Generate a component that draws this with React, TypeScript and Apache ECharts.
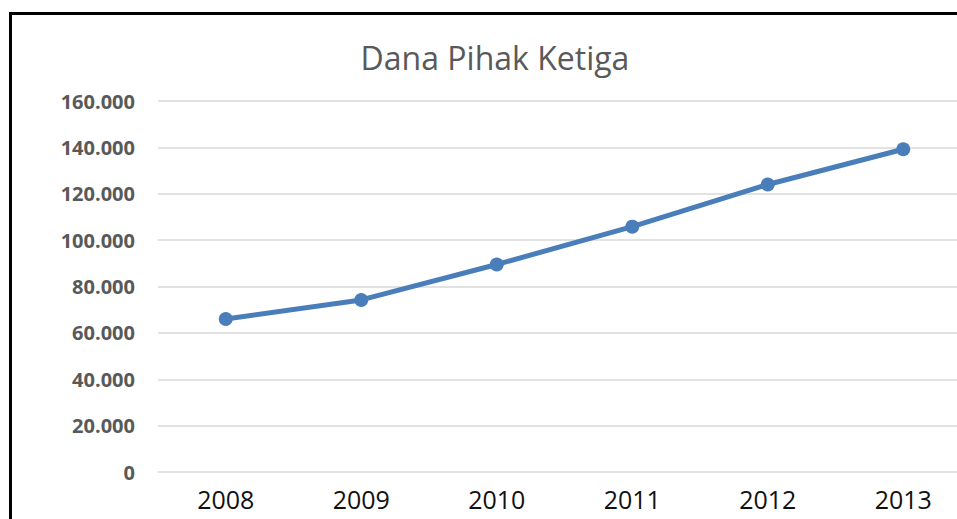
import React, { useEffect, useRef } from "react";
import * as echarts from "echarts";

const categories = ["2008", "2009", "2010", "2011", "2012", "2013"];
const values = [66000, 74200, 89500, 105800, 124000, 139200];
const yTicks = [0, 20000, 40000, 60000, 80000, 100000, 120000, 140000, 160000];

const fmt = (v: number) =>
  v === 0 ? "0" : String(v).replace(/\B(?=(\d{3})+(?!\d))/g, ".");

export default function App() {
  const ref = useRef<HTMLDivElement>(null);
  useEffect(() => {
    document.body.style.margin = "0";
    document.body.style.overflow = "hidden";
    const chart = echarts.init(ref.current!, null, { renderer: "svg" });
    chart.setOption({
      animation: false,
      backgroundColor: "#ffffff",
      title: {
        text: "Dana Pihak Ketiga",
        left: 490,
        textAlign: "center",
        top: 36,
        textStyle: {
          fontFamily: "Open Sans",
          fontSize: 32,
          fontWeight: "normal",
          color: "#595959",
        },
      },
      grid: { left: 158, right: 0, top: 101, bottom: 971 - 971 + 47, containLabel: false },
      xAxis: {
        type: "category",
        data: categories,
        boundaryGap: true,
        axisLine: { show: false },
        axisTick: { show: false },
        axisLabel: {
          fontFamily: "Open Sans",
          fontSize: 25,
          color: "#111111",
          margin: 14,
        },
      },
      yAxis: {
        type: "value",
        min: yTicks[0],
        max: yTicks[yTicks.length - 1],
        interval: 20000,
        axisLine: { show: false },
        axisTick: { show: false },
        splitLine: { lineStyle: { color: "#d9d9d9", width: 1.5 } },
        axisLabel: {
          formatter: (v: number) => fmt(v),
          fontFamily: "Open Sans",
          fontWeight: "bold",
          fontSize: 20,
          color: "#595959",
          margin: 23,
        },
      },
      series: [
        {
          type: "line",
          data: values,
          symbol: "circle",
          symbolSize: 14,
          lineStyle: { color: "#4a7ebb", width: 5 },
          itemStyle: { color: "#4a7ebb" },
        },
      ],
      graphic: [
        {
          type: "line",
          shape: { x1: 10.5, y1: 13.5, x2: 10.5, y2: 530 },
          style: { stroke: "#000", lineWidth: 3 },
        },
        {
          type: "line",
          shape: { x1: 9, y1: 13.5, x2: 980, y2: 13.5 },
          style: { stroke: "#000", lineWidth: 3 },
        },
      ],
    });
    return () => chart.dispose();
  }, []);
  return <div ref={ref} style={{ width: 971, height: 519 }} />;
}
